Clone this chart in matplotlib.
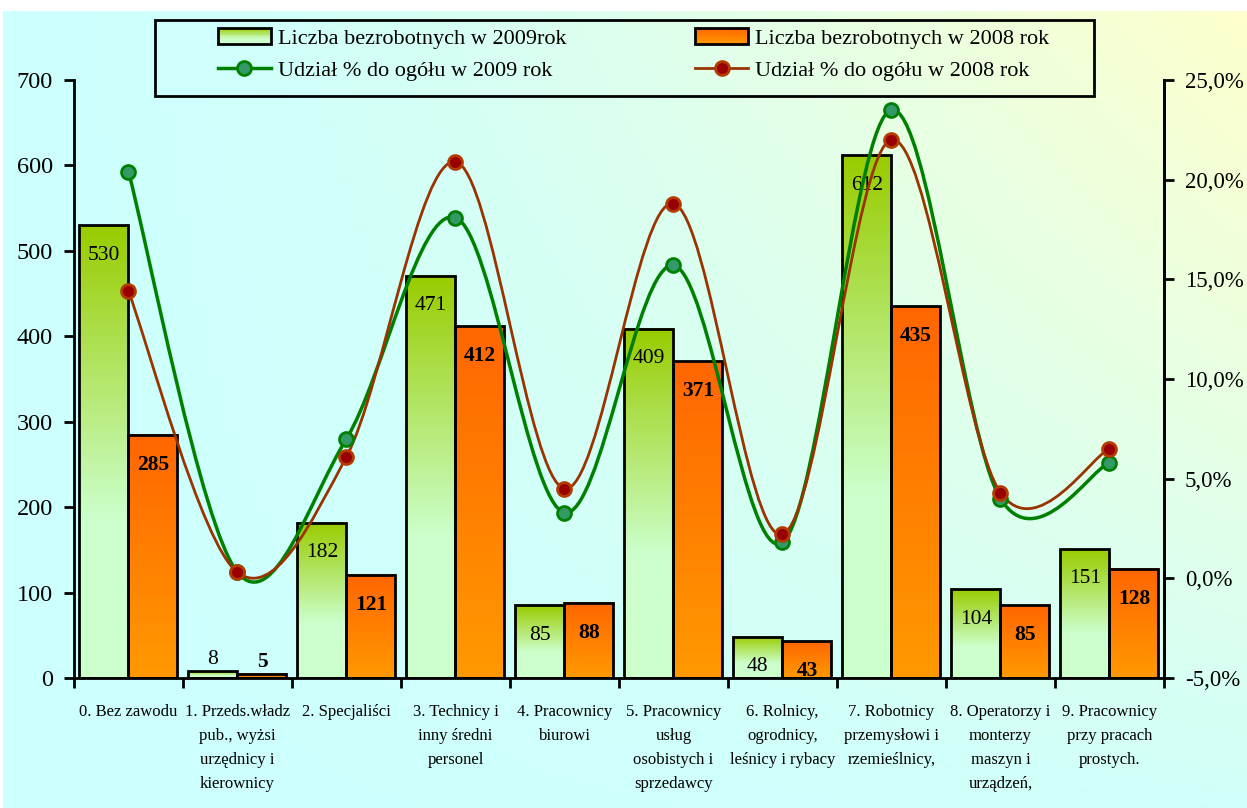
import numpy as np
import matplotlib
matplotlib.use("Agg")
import matplotlib.pyplot as plt
from matplotlib.path import Path
from matplotlib.patches import PathPatch, Rectangle, Patch
from matplotlib.lines import Line2D
from matplotlib.legend_handler import HandlerBase
from matplotlib.colors import to_rgb
from matplotlib.ticker import FuncFormatter

plt.rcParams['font.family'] = ['Liberation Serif', 'DejaVu Serif']

# dane
kategorie = [
    "0. Bez zawodu",
    "1. Przeds.władz\npub., wyżsi\nurzędnicy i\nkierownicy",
    "2. Specjaliści",
    "3. Technicy i\ninny średni\npersonel",
    "4. Pracownicy\nbiurowi",
    "5. Pracownicy\nusług\nosobistych i\nsprzedawcy",
    "6. Rolnicy,\nogrodnicy,\nleśnicy i rybacy",
    "7. Robotnicy\nprzemysłowi i\nrzemieślnicy,",
    "8. Operatorzy i\nmonterzy\nmaszyn i\nurządzeń,",
    "9. Pracownicy\nprzy pracach\nprostych.",
]
bezrobotni_2009 = [530, 8, 182, 471, 85, 409, 48, 612, 104, 151]
bezrobotni_2008 = [285, 5, 121, 412, 88, 371, 43, 435, 85, 128]
udzial_2009 = [20.4, 0.3, 7.0, 18.1, 3.3, 15.7, 1.8, 23.5, 4.0, 5.8]
udzial_2008 = [14.4, 0.3, 6.1, 20.9, 4.5, 18.8, 2.2, 22.0, 4.3, 6.5]

legenda = ["Liczba bezrobotnych w 2009rok", "Liczba bezrobotnych w 2008 rok",
           "Udział % do ogółu w 2009 rok", "Udział % do ogółu w 2008 rok"]

ZIEL_GORA, ZIEL_DOL = "#99CC00", "#CCFFCC"
POM_GORA, POM_DOL = "#FF6600", "#FF9900"


def mix(c1, c2, f):
    a, b = np.array(to_rgb(c1)), np.array(to_rgb(c2))
    return a * (1 - f) + b * f


def fade(s, green):
    # s: 0 = gora slupka, 1 = dol
    if green:
        return np.clip(s / 0.65, 0, 1)
    return s


def gradient_bar(ax, x, w, h, top, bottom, green):
    s = np.linspace(1, 0, 120)  # od dolu do gory
    img = np.array([mix(top, bottom, fade(v, green)) for v in s])[:, None, :]
    ax.imshow(img, extent=[x - w / 2, x + w / 2, 0, h], origin='lower',
              aspect='auto', zorder=2, interpolation='bilinear')
    ax.add_patch(Rectangle((x - w / 2, 0), w, h, fill=False,
                           edgecolor='black', lw=2, zorder=3))


def smooth_path(xs, ys):
    # wygladzanie jak w Excelu (krzywe Beziera)
    pts = np.column_stack([xs, ys]).astype(float)
    n = len(pts)
    verts, codes = [pts[0]], [Path.MOVETO]
    for i in range(n - 1):
        p0 = pts[i - 1] if i > 0 else pts[i]
        p1, p2 = pts[i], pts[i + 1]
        p3 = pts[i + 2] if i + 2 < n else pts[i + 1]
        verts += [p1 + (p2 - p0) / 6, p2 - (p3 - p1) / 6, p2]
        codes += [Path.CURVE4] * 3
    return Path(verts, codes)


class GradientHandler(HandlerBase):
    def __init__(self, top, bottom, green):
        super().__init__()
        self.top, self.bottom, self.green = top, bottom, green

    def create_artists(self, legend, orig_handle, xdescent, ydescent,
                       width, height, fontsize, trans):
        arts = []
        n = 12
        for k in range(n):
            s = 1 - (k + 0.5) / n
            arts.append(Rectangle((-xdescent, -ydescent + height * k / n), width, height / n,
                                  facecolor=mix(self.top, self.bottom, fade(s, self.green)),
                                  edgecolor='none', transform=trans))
        arts.append(Rectangle((-xdescent, -ydescent), width, height, fill=False,
                              edgecolor='black', lw=2, transform=trans))
        return arts


fig = plt.figure(figsize=(12.47, 8.08), dpi=100)
fig.patch.set_facecolor('white')

# tlo z gradientem
bg = fig.add_axes([0.0024, 0, 0.9976, 0.986], zorder=-10)
xf = np.linspace(0, 1, 300)[None, :]
yf = np.linspace(0, 1, 300)[:, None]
t = np.clip(xf ** 1.5 * (1 - 0.9 * yf), 0, 1)
c1, c2 = np.array(to_rgb("#CCFFFF")), np.array(to_rgb("#FFFFCC"))
bgimg = c1[None, None, :] * (1 - t[..., None]) + c2[None, None, :] * t[..., None]
bg.imshow(bgimg, aspect='auto', extent=[0, 1, 0, 1], origin='upper')
bg.axis('off')

ax = fig.add_axes([0.0593, 0.1609, 0.8741, 0.7401])
ax.set_facecolor('none')

x = np.arange(len(kategorie))
w = 0.45
for i in x:
    gradient_bar(ax, i - w / 2, w, bezrobotni_2009[i], ZIEL_GORA, ZIEL_DOL, True)
    gradient_bar(ax, i + w / 2, w, bezrobotni_2008[i], POM_GORA, POM_DOL, False)

for i in x:
    for val, dx, bold in [(bezrobotni_2009[i], -w / 2, False), (bezrobotni_2008[i], w / 2, True)]:
        if val < 25:
            ax.annotate(str(val), (i + dx, val), xytext=(0, 2), textcoords='offset pixels',
                        ha='center', va='bottom', fontsize=15.5,
                        fontweight='bold' if bold else 'normal', zorder=5)
        else:
            ax.annotate(str(val), (i + dx, val), xytext=(0, -30), textcoords='offset pixels',
                        ha='center', va='center', fontsize=15.5,
                        fontweight='bold' if bold else 'normal', zorder=5)

ax.set_xlim(-0.5, 9.5)
ax.set_ylim(0, 700)
ax.set_yticks(range(0, 701, 100))
ax.set_xticks(np.arange(-0.5, 10, 1))
ax.set_xticklabels([])
ax.set_xticks(x, minor=True)
ax.set_xticklabels(kategorie, minor=True, fontsize=12, linespacing=1.65, va='top')
ax.tick_params(axis='x', which='minor', length=0, pad=19)
ax.tick_params(axis='x', which='major', length=7, width=2, direction='out')
ax.tick_params(axis='y', length=7, width=2, direction='out', labelsize=17.5, pad=8)
ax.spines['top'].set_visible(False)
for s in ['left', 'bottom', 'right']:
    ax.spines[s].set_linewidth(2)

ax2 = ax.twinx()
ax2.set_ylim(-5, 25)
ax2.set_yticks(range(-5, 26, 5))
ax2.yaxis.set_major_formatter(FuncFormatter(lambda v, p: f"{v:.1f}%".replace(".", ",")))
ax2.tick_params(axis='y', length=7, width=2, direction='out', labelsize=16.5, pad=8)
ax2.spines['top'].set_visible(False)
ax2.spines['right'].set_linewidth(2)

for vals, lc, mfc, mec, lw in [(udzial_2009, "#008000", "#339966", "#008000", 2.5),
                               (udzial_2008, "#993300", "#990000", "#B33C00", 2.0)]:
    ax2.add_patch(PathPatch(smooth_path(x, vals), fill=False, edgecolor=lc, lw=lw, zorder=6))
    ax2.plot(x, vals, linestyle='none', marker='o', markersize=10,
             markerfacecolor=mfc, markeredgecolor=mec, markeredgewidth=2, zorder=7)

# legenda
h1 = Patch(facecolor=ZIEL_GORA, edgecolor='black')
h2 = Patch(facecolor=POM_GORA, edgecolor='black')
h3 = Line2D([], [], color="#008000", lw=2.5, marker='o', markersize=10,
            markerfacecolor="#339966", markeredgecolor="#008000", markeredgewidth=2)
h4 = Line2D([], [], color="#993300", lw=2, marker='o', markersize=10,
            markerfacecolor="#990000", markeredgecolor="#B33C00", markeredgewidth=2)
fig.legend([h1, h3, h2, h4], [legenda[0], legenda[2], legenda[1], legenda[3]],
           ncol=2, loc='center', bbox_to_anchor=(0.508, 0.9325), frameon=False,
           fontsize=16, handlelength=2.4, handletextpad=0.3, columnspacing=5.8,
           labelspacing=0.5, numpoints=1,
           handler_map={h1: GradientHandler(ZIEL_GORA, ZIEL_DOL, True),
                        h2: GradientHandler(POM_GORA, POM_DOL, False)})
fig.add_artist(Rectangle((0.124, 0.881), 0.753, 0.094, transform=fig.transFigure,
                         fill=False, edgecolor='black', lw=2, zorder=10))

fig.savefig("out.png", dpi=100)
